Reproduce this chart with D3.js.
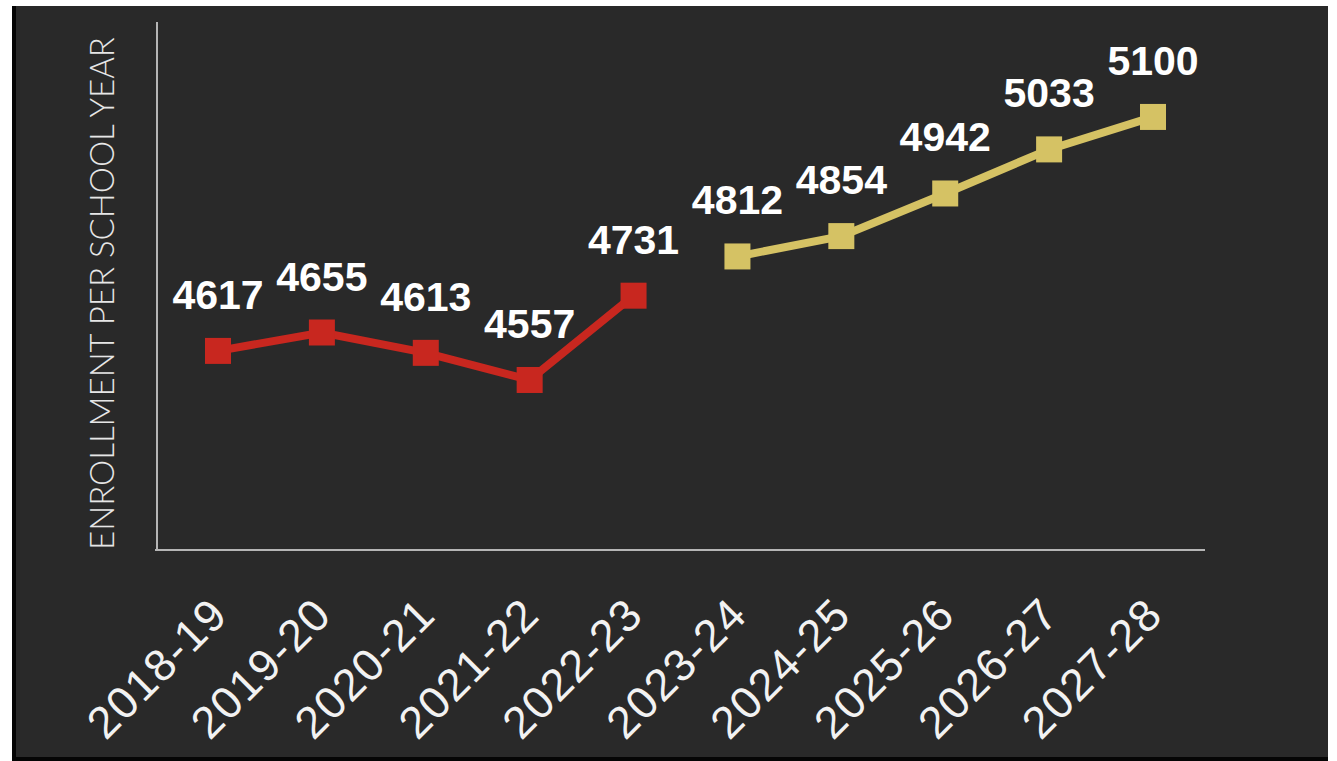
<!DOCTYPE html>
<html lang="en">
  <head>
    <meta charset="UTF-8" />
    <title>Enrollment per school year</title>
    <script src="https://cdn.jsdelivr.net/npm/d3@7"></script>
    <style>
      body {
        margin: 0;
        background: #ffffff;
      }
    </style>
  </head>
  <body>
    <script>
      const width = 1337;
      const height = 761;

      // data
      const years = [
        "2018-19",
        "2019-20",
        "2020-21",
        "2021-22",
        "2022-23",
        "2023-24",
        "2024-25",
        "2025-26",
        "2026-27",
        "2027-28",
      ];
      const actualYears = ["2018-19", "2019-20", "2020-21", "2021-22", "2022-23"];
      const actualValues = [4617, 4655, 4613, 4557, 4731];
      const projectedYears = ["2023-24", "2024-25", "2025-26", "2026-27", "2027-28"];
      const projectedValues = [4812, 4854, 4942, 5033, 5100];
      const yDomain = [4206, 5296];

      const series = [
        {
          color: "#c8271f",
          points: actualYears.map((d, i) => ({ year: d, value: actualValues[i] })),
        },
        {
          color: "#d5c264",
          points: projectedYears.map((d, i) => ({ year: d, value: projectedValues[i] })),
        },
      ];

      const svg = d3
        .select("body")
        .append("svg")
        .attr("width", width)
        .attr("height", height);

      // dark panel with the black edges
      svg
        .append("rect")
        .attr("x", 12)
        .attr("y", 6)
        .attr("width", 1316)
        .attr("height", 755)
        .attr("fill", "#292929");
      svg
        .append("rect")
        .attr("x", 12)
        .attr("y", 6)
        .attr("width", 4)
        .attr("height", 755)
        .attr("fill", "#050505");
      svg
        .append("rect")
        .attr("x", 12)
        .attr("y", 757)
        .attr("width", 1316)
        .attr("height", 4)
        .attr("fill", "#050505");

      const x = d3.scalePoint().domain(years).range([218, 1153]);
      const y = d3.scaleLinear().domain(yDomain).range([550, 22]);

      // axes lines
      svg
        .append("line")
        .attr("x1", 157)
        .attr("x2", 157)
        .attr("y1", y.range()[1])
        .attr("y2", y.range()[0])
        .attr("stroke", "#b5b5b5")
        .attr("stroke-width", 2);
      svg
        .append("line")
        .attr("x1", 155)
        .attr("x2", 1205)
        .attr("y1", y.range()[0])
        .attr("y2", y.range()[0])
        .attr("stroke", "#b5b5b5")
        .attr("stroke-width", 2);

      // x tick labels, rotated
      svg
        .selectAll(".tick-label")
        .data(years)
        .join("text")
        .classed("tick-label", true)
        .attr("transform", (d) => `translate(${x(d) + 12}, 617) rotate(-45)`)
        .attr("text-anchor", "end")
        .attr("fill", "#f2f2f2")
        .style("font-family", "'Liberation Sans', Arial, sans-serif")
        .style("font-size", "45px")
        .style("letter-spacing", "1.5px")
        .text((d) => d);

      // y title
      svg
        .append("text")
        .attr("transform", `translate(114, ${(42 + 545) / 2}) rotate(-90)`)
        .attr("text-anchor", "middle")
        .attr("fill", "#e6e6e6")
        .style("font-family", "Lato, 'Open Sans', sans-serif")
        .style("font-weight", 300)
        .style("font-size", "33px")
        .text("ENROLLMENT PER SCHOOL YEAR");

      const line = d3
        .line()
        .x((d) => x(d.year))
        .y((d) => y(d.value));

      const groups = svg.selectAll(".series").data(series).join("g").classed("series", true);

      groups
        .append("path")
        .attr("d", (d) => line(d.points))
        .attr("fill", "none")
        .attr("stroke", (d) => d.color)
        .attr("stroke-width", 8);

      groups
        .selectAll("rect")
        .data((d) => d.points.map((p) => ({ ...p, color: d.color })))
        .join("rect")
        .attr("x", (d) => x(d.year) - 13)
        .attr("y", (d) => y(d.value) - 13)
        .attr("width", 26)
        .attr("height", 26)
        .attr("fill", (d) => d.color);

      groups
        .selectAll(".value")
        .data((d) => d.points)
        .join("text")
        .classed("value", true)
        .attr("x", (d) => x(d.year))
        .attr("y", (d) => y(d.value) - 42)
        .attr("text-anchor", "middle")
        .attr("fill", "#ffffff")
        .style("font-family", "'Liberation Sans', Arial, sans-serif")
        .style("font-weight", "bold")
        .style("font-size", "41px")
        .text((d) => d.value);
    </script>
  </body>
</html>
